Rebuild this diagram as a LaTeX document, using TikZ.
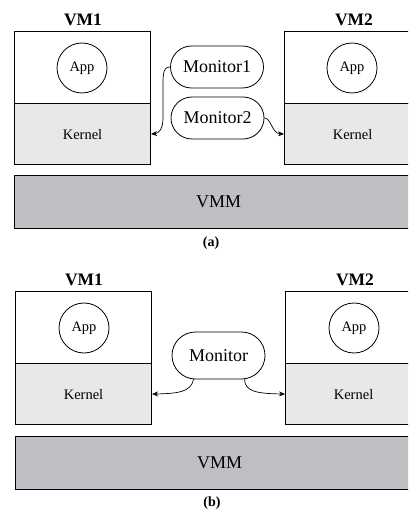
\documentclass[tikz,border=0pt]{standalone}
\usepackage{fontspec}
\setmainfont{Liberation Serif}
\usetikzlibrary{shapes.misc,arrows.meta}
\definecolor{kgray}{RGB}{231,232,233}
\definecolor{vgray}{RGB}{190,191,194}
\begin{document}
\begin{tikzpicture}[x=1pt,y=-1pt,line width=1.1pt,
  upper/.style={draw,fill=white,rectangle,minimum width=136pt,minimum height=72pt,inner sep=0pt,anchor=north west},
  kern/.style={draw,fill=kgray,rectangle,minimum width=136pt,minimum height=61pt,inner sep=0pt,anchor=north west,font=\fontsize{14.5}{16}\selectfont},
  vmm/.style={draw,fill=vgray,rectangle,minimum width=408pt,minimum height=53pt,inner sep=0pt,anchor=north west,font=\fontsize{18}{20}\selectfont},
  app/.style={draw,circle,minimum size=50pt,inner sep=0pt,line width=0.8pt,font=\fontsize{14.5}{16}\selectfont},
  mon/.style={draw,rounded rectangle,minimum width=93pt,minimum height=42pt,inner sep=0pt,line width=0.8pt,font=\fontsize{18}{20}\selectfont},
  vmlabel/.style={font=\bfseries\fontsize{17.5}{19}\selectfont},
  captext/.style={font=\bfseries\fontsize{14}{16}\selectfont},
  conn/.style={line width=0.7pt,-{Stealth[length=6pt,width=5pt]}}]
\useasboundingbox (0,0) rectangle (408,521);
\clip (0,0) rectangle (408,521);
% ---- panel (a)
\node[vmlabel] (la1) at (83,20) {VM1};
\node[vmlabel] (la2) at (354,20) {VM2};
\node[upper] (ua1) at (14,31) {};
\node[kern] (ka1) at (14,103) {Kernel};
\node[upper] (ua2) at (284,31) {};
\node[kern] (ka2) at (284,103) {Kernel};
\node[app] (aa1) at (82,68) {App};
\node[app] (aa2) at (352,68) {App};
\node[mon] (m1) at (217,67) {Monitor1};
\node[mon] (m2) at (217.5,118) {Monitor2};
\node[vmm] (va) at (14,175) {VMM};
\node[captext] (capa) at (211,243) {(a)};
\draw[conn] (m1.west) .. controls (162,67) and (163,76) .. (163,95) -- (163,118) .. controls (163,130) and (158,133.5) .. (ka1.east);
\draw[conn] (m2.east) .. controls (271,118) and (272,133.5) .. (ka2.west);
% ---- panel (b)
\node[vmlabel] (lb1) at (84,280) {VM1};
\node[vmlabel] (lb2) at (355,280) {VM2};
\node[upper] (ub1) at (15,291) {};
\node[kern] (kb1) at (15,363) {Kernel};
\node[upper] (ub2) at (285,291) {};
\node[kern] (kb2) at (285,363) {Kernel};
\node[app] (ab1) at (84,328) {App};
\node[app] (ab2) at (354,328) {App};
\node[mon,minimum height=47pt] (mb) at (218.5,355.5) {Monitor};
\node[vmm] (vb) at (15,436) {VMM};
\node[captext] (capb) at (212,503) {(b)};
\draw[conn] ([xshift=-25pt]mb.south) .. controls (191,392) and (178,393.5) .. (kb1.east);
\draw[conn] ([xshift=26pt]mb.south) .. controls (245,392) and (258,393.5) .. (kb2.west);
\end{tikzpicture}
\end{document}
